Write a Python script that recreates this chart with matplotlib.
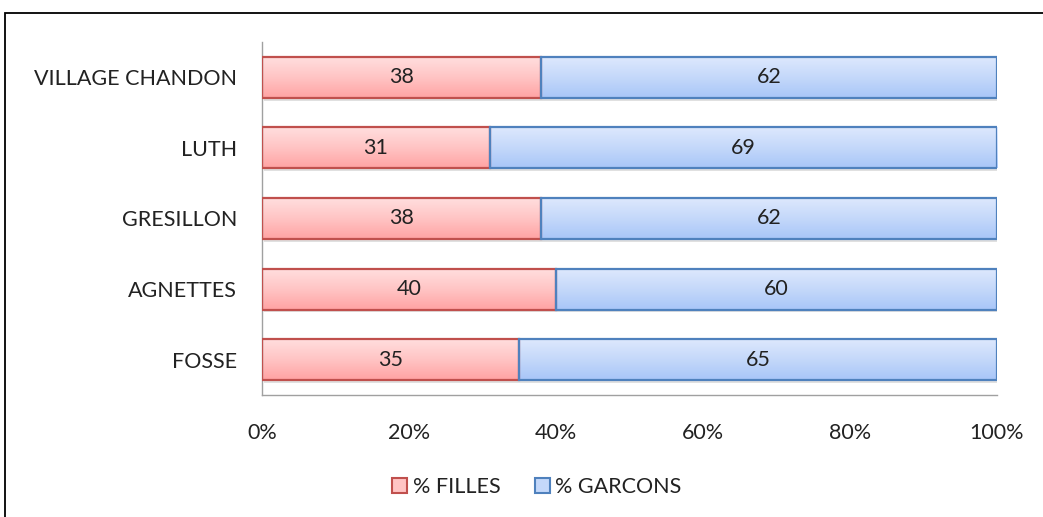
import matplotlib
matplotlib.use("Agg")
import matplotlib.pyplot as plt
import numpy as np
from matplotlib.patches import Rectangle
from matplotlib.colors import LinearSegmentedColormap

categories = ["VILLAGE CHANDON", "LUTH", "GRESILLON", "AGNETTES", "FOSSE"]
filles = [38, 31, 38, 40, 35]
garcons = [62, 69, 62, 60, 65]
xticks = [0, 20, 40, 60, 80, 100]
xtick_labels = ["0%", "20%", "40%", "60%", "80%", "100%"]

plt.rcParams['font.family'] = ['Lato', 'DejaVu Sans']
FS = 15.5

fig = plt.figure(figsize=(10.43, 5.17), dpi=100)
ax = fig.add_axes([262/1043, 1-395/517, (997-262)/1043, (395-42)/517])

# outer frame
fig.patches.append(Rectangle((5/1043, -0.1), 1.2, (517-13)/517 + 0.1, transform=fig.transFigure,
                             fill=False, edgecolor='black', linewidth=1.3))

red_cmap = LinearSegmentedColormap.from_list('r', ['#FFA3A3', '#FFC4C4', '#FFDEDE'])
blue_cmap = LinearSegmentedColormap.from_list('b', ['#A8C6F8', '#C4D8FA', '#DDE8FD'])

y = np.arange(len(categories))[::-1]
h = 0.58
grad = np.linspace(0, 1, 100).reshape(-1, 1)

def draw(lefts, widths, cmap, edge):
    bars = ax.barh(y, widths, left=lefts, height=h, color='none', edgecolor=edge, linewidth=1.6, zorder=3)
    for b in bars:
        x0, y0 = b.get_x(), b.get_y()
        w, hh = b.get_width(), b.get_height()
        im = ax.imshow(grad, cmap=cmap, extent=[x0, x0 + w, y0, y0 + hh], origin='lower',
                       aspect='auto', zorder=2, interpolation='bilinear')
        im.set_clip_path(b)
        ax.add_patch(Rectangle((x0 + 0.3, y0 - 0.04), w, hh, facecolor='#000000', alpha=0.12,
                               edgecolor='none', zorder=1))
    return bars

b1 = draw([0]*len(filles), filles, red_cmap, '#C0504D')
b2 = draw(filles, garcons, blue_cmap, '#4F81BD')

for yi, f, g in zip(y, filles, garcons):
    ax.text(f/2, yi, f"{f}", ha='center', va='center', fontsize=FS, color='#222222', zorder=4)
    ax.text(f + g/2, yi, f"{g}", ha='center', va='center', fontsize=FS, color='#222222', zorder=4)

ax.set_xlim(0, 100)
ax.set_ylim(-0.5, 4.5)
ax.set_xticks(xticks)
ax.set_xticklabels(xtick_labels, fontsize=FS, color='#222222')
ax.set_yticks(y)
ax.set_yticklabels(categories, fontsize=FS, color='#222222')
ax.tick_params(axis='both', length=0)
ax.tick_params(axis='x', pad=20)
ax.tick_params(axis='y', pad=18)
for s in ['top', 'right']:
    ax.spines[s].set_visible(False)
for s in ['left', 'bottom']:
    ax.spines[s].set_color('#A0A0A0')
    ax.spines[s].set_linewidth(1.0)

handles = [Rectangle((0, 0), 1, 1, facecolor='#FFC4C4', edgecolor='#C0504D', linewidth=1.5),
           Rectangle((0, 0), 1, 1, facecolor='#C4D8FA', edgecolor='#4F81BD', linewidth=1.5)]
fig.legend(handles, ["% FILLES", "% GARCONS"], loc='center', bbox_to_anchor=(537/1043, 1-487/517),
           ncol=2, frameon=False, fontsize=FS, handlelength=0.7, handleheight=0.7,
           handletextpad=0.25, columnspacing=1.6, labelcolor='#222222')

fig.savefig('out.png', dpi=100, facecolor='white')
